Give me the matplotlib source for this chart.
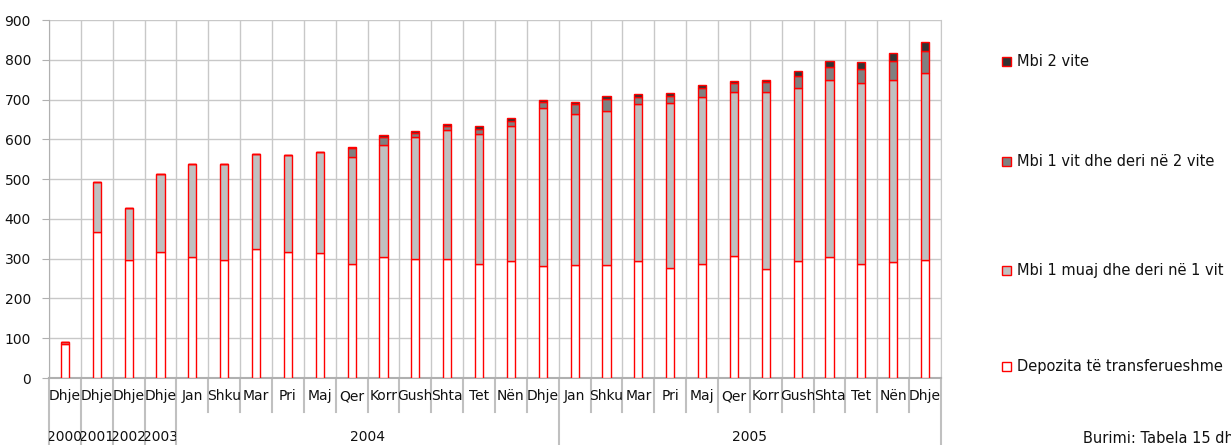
import numpy as np
import matplotlib
matplotlib.use("Agg")
import matplotlib.pyplot as plt
from matplotlib.transforms import Bbox, TransformedBbox, blended_transform_factory
from matplotlib.patches import Rectangle

# ---- data ----
months = ["Jan", "Shku", "Mar", "Pri", "Maj", "Qer", "Korr", "Gush", "Shta", "Tet", "Nën", "Dhje"]
month_labels = ["Dhje"] * 4 + months + months
years = ["2000", "2001", "2002", "2003", "2004", "2005"]
year_spans = [1, 1, 1, 1, 12, 12]

transferable = [86, 367, 297, 316, 303, 297, 325, 318, 314, 287, 303, 299, 298, 286,
                293, 282, 285, 284, 294, 276, 287, 307, 273, 295, 303, 287, 292, 297]
m1_to_1y = [4, 125, 130, 198, 234, 240, 239, 242, 254, 269, 282, 307, 325, 327,
            340, 398, 378, 387, 395, 415, 420, 411, 446, 434, 445, 455, 456, 469]
y1_to_2y = [0, 0, 0, 0, 0, 0, 0, 0, 0, 21, 22, 11, 11, 14,
            14, 14, 26, 31, 18, 19, 22, 23, 24, 31, 33, 34, 48, 57]
over_2y = [0, 0, 0, 0, 0, 0, 0, 0, 0, 4, 5, 5, 4, 6,
           6, 5, 6, 6, 6, 7, 7, 5, 7, 12, 16, 18, 20, 21]

series_names = ["Depozita të transferueshme", "Mbi 1 muaj dhe deri në 1 vit",
                "Mbi 1 vit dhe deri në 2 vite", "Mbi 2 vite"]
colors = ["#FFFFFF", "#C0C0C0", "#808080", "#333333"]

W, H = 1231, 445
fig = plt.figure(figsize=(W / 100, H / 100), dpi=100)
ax_l, ax_r, ax_b, ax_t = 49, 941, 378, 20
ax = fig.add_axes([ax_l / W, (H - ax_b) / H, (ax_r - ax_l) / W, (ax_b - ax_t) / H])

plt.rcParams['font.family'] = ['DejaVu Sans']
fs = 10
fs_leg = 10.5
grid_c = "#C8C8C8"

x = np.arange(len(month_labels))
series = [transferable, m1_to_1y, y1_to_2y, over_2y]
bottom = np.zeros(len(x))
for vals, c in zip(series, colors):
    v = np.array(vals, dtype=float)
    ax.bar(x, v, width=0.26, bottom=bottom, color=c, edgecolor="#FF0000",
           linewidth=1.0, zorder=3)
    bottom += v

ax.set_xlim(-0.5, len(x) - 0.5)
ax.set_ylim(0, 900)
ax.set_yticks(np.arange(0, 901, 100))
ax.set_xticks(np.arange(-0.5, len(x), 1))
ax.set_xticklabels([])
ax.tick_params(axis="x", length=0)
ax.tick_params(axis="y", length=5, color="#B0B0B0", labelsize=fs, pad=8, labelcolor="#111111")
ax.grid(True, color=grid_c, linewidth=1.0, zorder=0)
ax.set_axisbelow(True)
ax.spines["top"].set_visible(False)
ax.spines["right"].set_color(grid_c)
ax.spines["left"].set_color("#B0B0B0")
ax.spines["bottom"].set_color("#B0B0B0")
ax.spines["bottom"].set_linewidth(1.5)

trans = blended_transform_factory(ax.transData, ax.transAxes)
axh = ax_b - ax_t
month_bot = -(412 - ax_b) / axh
year_bot = -(H - ax_b) / axh
month_y = -(396 - ax_b) / axh
year_y = -(437 - ax_b) / axh

year_edges = [-0.5]
for s in year_spans:
    year_edges.append(year_edges[-1] + s)

for b in np.arange(-0.5, len(x), 1):
    yb = year_bot if b in year_edges else month_bot
    ax.plot([b, b], [0, yb], transform=trans, color="#C0C0C0", lw=1.5, clip_on=False)

for i, lab in enumerate(month_labels):
    t = ax.text(i, month_y, lab, transform=trans, ha="center", va="center",
                fontsize=fs, color="#111111", clip_on=True)
    t.set_clip_box(TransformedBbox(Bbox([[i - 0.5, -1], [i + 0.5, 0]]), trans))

for k, yl in enumerate(years):
    a, b = year_edges[k], year_edges[k + 1]
    t = ax.text((a + b) / 2, year_y, yl, transform=trans, ha="center", va="center",
                fontsize=fs, color="#111111", clip_on=True)
    t.set_clip_box(TransformedBbox(Bbox([[a, -1], [b, 0]]), trans))

# legend (manual, spaced like reference)
leg_y = [366, 270, 161, 61]
for name, c, yy in zip(series_names, colors, leg_y):
    fig.patches.append(Rectangle((1002 / W, (H - yy - 4.5) / H), 9 / W, 9 / H,
                                 transform=fig.transFigure, facecolor=c,
                                 edgecolor="#FF0000", linewidth=1.0))
    fig.text(1017 / W, (H - yy) / H, name, fontsize=fs_leg, va="center", ha="left",
             color="#111111")

fig.text(1083 / W, (H - 431) / H, "Burimi: Tabela 15 dhe", fontsize=fs_leg, va="top",
         ha="left", color="#111111")

fig.savefig("out.png", dpi=100)
